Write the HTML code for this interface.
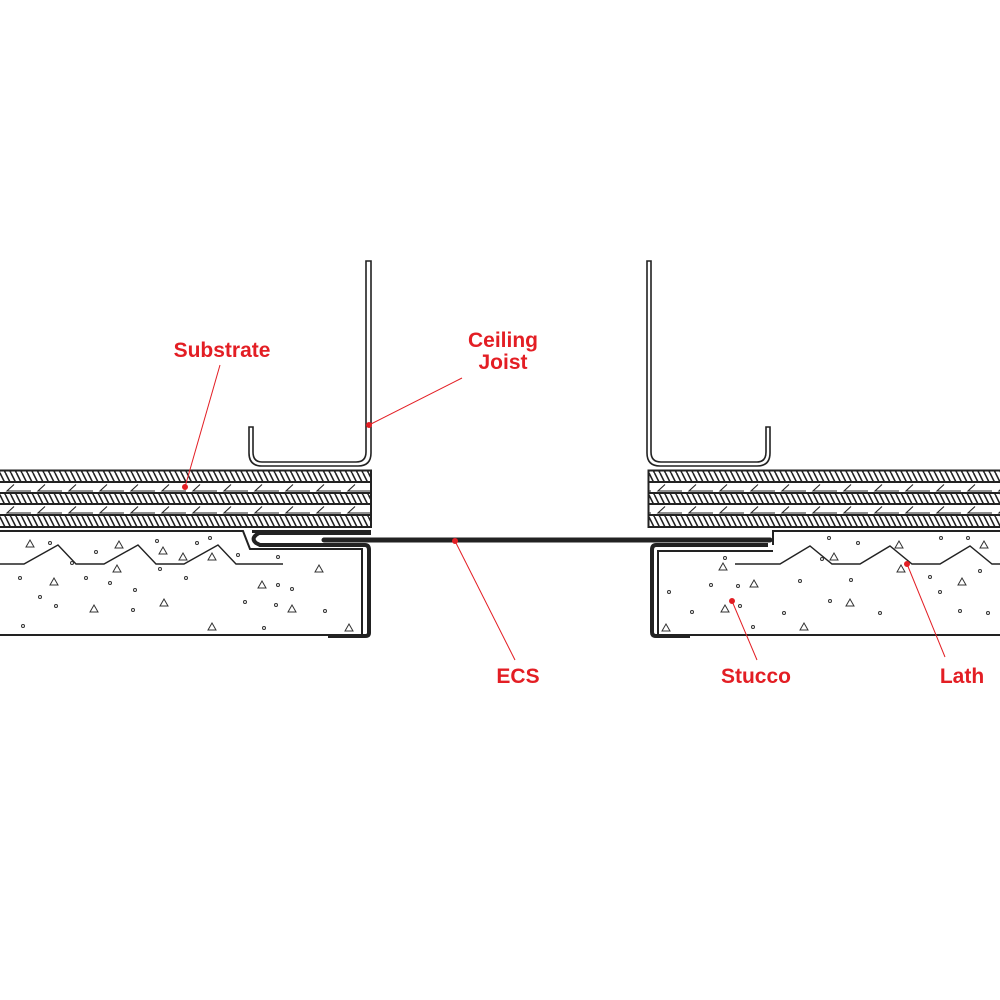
<!DOCTYPE html>
<html><head><style>
html,body{margin:0;padding:0;background:#fff;}
svg{display:block}
text{font-family:"Liberation Sans",Arial,sans-serif;font-weight:bold;fill:#e31e24;font-size:21px;text-anchor:middle}
</style></head><body>
<svg width="1000" height="1000" viewBox="0 0 1000 1000" xmlns="http://www.w3.org/2000/svg">
<defs>
<pattern id="h" width="5.5" height="11" patternUnits="userSpaceOnUse">
<path d="M0,0 L5.5,11 M-5.5,0 L0,11 M5.5,0 L11,11" stroke="#222" stroke-width="1.6"/>
</pattern>
<pattern id="c" width="31" height="11" patternUnits="userSpaceOnUse">
<path d="M14,0.5 L7,7 H31 M-17,7 H0" stroke="#222" stroke-width="1.1" fill="none"/>
</pattern>
</defs>
<g>
<rect x="0" y="471" width="371" height="11" fill="url(#h)"/>
<rect x="0" y="493" width="371" height="11" fill="url(#h)"/>
<rect x="0" y="515" width="371" height="11" fill="url(#h)"/>
<rect x="0" y="482" width="371" height="11" fill="url(#c)"/>
<rect x="0" y="504" width="371" height="11" fill="url(#c)"/>
<path d="M0,470.5 H371 V527 H0 M0,482 H371 M0,493 H371 M0,504 H371 M0,515 H371" stroke="#222" stroke-width="2" fill="none"/>
</g>
<g>
<rect x="648" y="471" width="352" height="11" fill="url(#h)"/>
<rect x="648" y="493" width="352" height="11" fill="url(#h)"/>
<rect x="648" y="515" width="352" height="11" fill="url(#h)"/>
<rect x="648" y="482" width="352" height="11" fill="url(#c)"/>
<rect x="648" y="504" width="352" height="11" fill="url(#c)"/>
<path d="M1000,470.5 H648.5 V527 H1000 M648,482 H1000 M648,493 H1000 M648,504 H1000 M648,515 H1000" stroke="#222" stroke-width="2" fill="none"/>
</g>
<g fill="none" stroke="#222" stroke-width="1.6">
<path d="M366,261 V452 Q366,462 356,462 H262 Q253,462 253,452 V427 H249 V453 Q249,466 262,466 H358 Q371,466 371,453 V261 Z"/>
<path d="M647,261 V453 Q647,466 660,466 H757 Q770,466 770,453 V427 H766 V452 Q766,462 757,462 H661 Q651,462 651,452 V261 Z"/>
</g>
<g fill="none" stroke="#222">
<path d="M0,531 H243 L250,549 H362 V635 H0" stroke-width="2"/>
<path d="M252,531.5 H371" stroke-width="3"/>
<path d="M371,533 H259 Q250,538 256,543 L260,545 H365 Q369,545 369,550 V633 Q369,636 365,636 H328" stroke-width="4"/>
<path d="M324,540 H770" stroke-width="5" stroke-linecap="round"/>
<path d="M0,564 H24 L58,545 L76,564 H104 L138,545 L156,564 H184 L218,545 L236,564 H283" stroke-width="1.4"/>
<path d="M1000,531 H773 V545" stroke-width="2"/>
<path d="M768,545 H656 Q652,545 652,550 V632 Q652,636 656,636 H690" stroke-width="4"/>
<path d="M773,551 H658 V635 H1000" stroke-width="2"/>
<path d="M735,564 H780 L810,546 L832,564 H860 L890,546 L912,564 H940 L970,546 L992,564 H1000" stroke-width="1.4"/>
</g>
<g fill="none" stroke="#333" stroke-width="1">
<path d="M26,547 l4,-7 l4,7z M113,572 l4,-7 l4,7z M50,585 l4,-7 l4,7z M90,612 l4,-7 l4,7z M160,606 l4,-7 l4,7z M208,630 l4,-7 l4,7z M258,588 l4,-7 l4,7z M288,612 l4,-7 l4,7z M315,572 l4,-7 l4,7z M345,631 l4,-7 l4,7z M115,548 l4,-7 l4,7z M179,560 l4,-7 l4,7z M159,554 l4,-7 l4,7z M208,560 l4,-7 l4,7z"/>
<path d="M719,570 l4,-7 l4,7z M750,587 l4,-7 l4,7z M721,612 l4,-7 l4,7z M800,630 l4,-7 l4,7z M846,606 l4,-7 l4,7z M662,631 l4,-7 l4,7z M830,560 l4,-7 l4,7z M897,572 l4,-7 l4,7z M895,548 l4,-7 l4,7z M958,585 l4,-7 l4,7z M980,548 l4,-7 l4,7z"/>
<g>
<circle cx="50" cy="543" r="1.5"/><circle cx="96" cy="552" r="1.5"/><circle cx="20" cy="578" r="1.5"/><circle cx="72" cy="563" r="1.5"/><circle cx="40" cy="597" r="1.5"/><circle cx="56" cy="606" r="1.5"/><circle cx="86" cy="578" r="1.5"/><circle cx="110" cy="583" r="1.5"/><circle cx="23" cy="626" r="1.5"/><circle cx="135" cy="590" r="1.5"/><circle cx="133" cy="610" r="1.5"/><circle cx="186" cy="578" r="1.5"/><circle cx="245" cy="602" r="1.5"/><circle cx="264" cy="628" r="1.5"/><circle cx="278" cy="557" r="1.5"/><circle cx="278" cy="585" r="1.5"/><circle cx="292" cy="589" r="1.5"/><circle cx="276" cy="605" r="1.5"/><circle cx="325" cy="611" r="1.5"/><circle cx="238" cy="555" r="1.5"/><circle cx="210" cy="538" r="1.5"/><circle cx="157" cy="541" r="1.5"/><circle cx="197" cy="543" r="1.5"/><circle cx="160" cy="569" r="1.5"/>
<circle cx="669" cy="592" r="1.5"/><circle cx="711" cy="585" r="1.5"/><circle cx="692" cy="612" r="1.5"/><circle cx="738" cy="586" r="1.5"/><circle cx="740" cy="606" r="1.5"/><circle cx="753" cy="627" r="1.5"/><circle cx="725" cy="558" r="1.5"/><circle cx="784" cy="613" r="1.5"/><circle cx="800" cy="581" r="1.5"/><circle cx="830" cy="601" r="1.5"/><circle cx="851" cy="580" r="1.5"/><circle cx="829" cy="538" r="1.5"/><circle cx="822" cy="559" r="1.5"/><circle cx="858" cy="543" r="1.5"/><circle cx="880" cy="613" r="1.5"/><circle cx="930" cy="577" r="1.5"/><circle cx="940" cy="592" r="1.5"/><circle cx="960" cy="611" r="1.5"/><circle cx="980" cy="571" r="1.5"/><circle cx="941" cy="538" r="1.5"/><circle cx="968" cy="538" r="1.5"/><circle cx="988" cy="613" r="1.5"/>
</g>
</g>
<g stroke="#e31e24" stroke-width="1" fill="#e31e24">
<line x1="220" y1="365" x2="185" y2="487"/><circle cx="185" cy="487" r="2.5"/>
<line x1="462" y1="378" x2="369" y2="425"/><circle cx="369" cy="425" r="2.5"/>
<line x1="515" y1="660" x2="455" y2="541"/><circle cx="455" cy="541" r="2.5"/>
<line x1="757" y1="660" x2="732" y2="601"/><circle cx="732" cy="601" r="2.5"/>
<line x1="945" y1="657" x2="907" y2="564"/><circle cx="907" cy="564" r="2.5"/>
</g>
<text x="222" y="357">Substrate</text>
<text x="503" y="347">Ceiling</text>
<text x="503" y="369">Joist</text>
<text x="518" y="683">ECS</text>
<text x="756" y="683">Stucco</text>
<text x="962" y="683">Lath</text>
</svg>
</body></html>
